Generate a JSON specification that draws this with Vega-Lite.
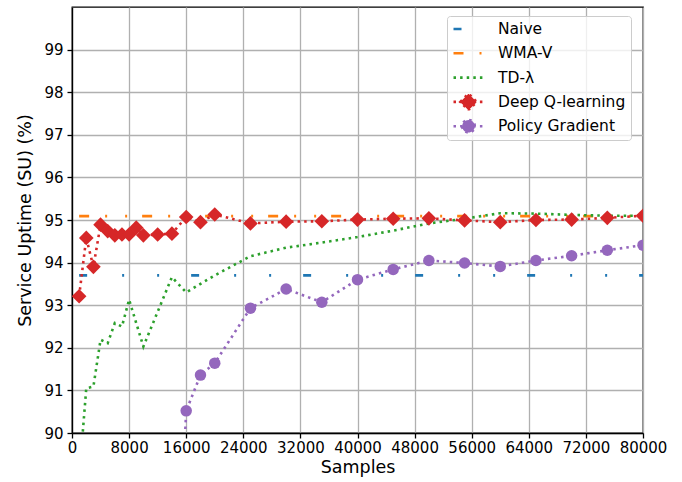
{
  "$schema": "https://vega.github.io/schema/vega-lite/v6.json",
  "width": 571,
  "height": 426,
  "autosize": {"type": "none"},
  "padding": {"left": 72, "top": 7, "right": 39, "bottom": 49},
  "background": "white",
  "datasets": {
    "main": [
      {"series": "Naive", "x": 1000, "y": 93.7}, {"series": "Naive", "x": 10000, "y": 93.7}, {"series": "Naive", "x": 20000, "y": 93.7}, {"series": "Naive", "x": 30000, "y": 93.7}, {"series": "Naive", "x": 40000, "y": 93.7}, {"series": "Naive", "x": 50000, "y": 93.7}, {"series": "Naive", "x": 60000, "y": 93.7}, {"series": "Naive", "x": 70000, "y": 93.7}, {"series": "Naive", "x": 80000, "y": 93.7},
      {"series": "WMA-V", "x": 1000, "y": 95.09}, {"series": "WMA-V", "x": 10000, "y": 95.09}, {"series": "WMA-V", "x": 20000, "y": 95.09}, {"series": "WMA-V", "x": 30000, "y": 95.09}, {"series": "WMA-V", "x": 40000, "y": 95.09}, {"series": "WMA-V", "x": 50000, "y": 95.09}, {"series": "WMA-V", "x": 60000, "y": 95.09}, {"series": "WMA-V", "x": 70000, "y": 95.09}, {"series": "WMA-V", "x": 80000, "y": 95.09},
      {"series": "TD-λ", "x": 1000, "y": 88.95}, {"series": "TD-λ", "x": 2000, "y": 91.05}, {"series": "TD-λ", "x": 3000, "y": 91.09}, {"series": "TD-λ", "x": 4000, "y": 92.19}, {"series": "TD-λ", "x": 5000, "y": 92.11}, {"series": "TD-λ", "x": 6000, "y": 92.58}, {"series": "TD-λ", "x": 7000, "y": 92.5}, {"series": "TD-λ", "x": 8000, "y": 93.13}, {"series": "TD-λ", "x": 10000, "y": 92.03}, {"series": "TD-λ", "x": 14000, "y": 93.66}, {"series": "TD-λ", "x": 16000, "y": 93.3}, {"series": "TD-λ", "x": 18000, "y": 93.5}, {"series": "TD-λ", "x": 20000, "y": 93.7}, {"series": "TD-λ", "x": 25000, "y": 94.15}, {"series": "TD-λ", "x": 30000, "y": 94.35}, {"series": "TD-λ", "x": 35000, "y": 94.47}, {"series": "TD-λ", "x": 40000, "y": 94.6}, {"series": "TD-λ", "x": 45000, "y": 94.75}, {"series": "TD-λ", "x": 50000, "y": 94.92}, {"series": "TD-λ", "x": 55000, "y": 95.03}, {"series": "TD-λ", "x": 60000, "y": 95.16}, {"series": "TD-λ", "x": 65000, "y": 95.15}, {"series": "TD-λ", "x": 70000, "y": 95.12}, {"series": "TD-λ", "x": 75000, "y": 95.1}, {"series": "TD-λ", "x": 80000, "y": 95.1},
      {"series": "Deep Q-learning", "x": 1000, "y": 93.21}, {"series": "Deep Q-learning", "x": 2000, "y": 94.58}, {"series": "Deep Q-learning", "x": 3000, "y": 93.9}, {"series": "Deep Q-learning", "x": 4000, "y": 94.89}, {"series": "Deep Q-learning", "x": 5000, "y": 94.74}, {"series": "Deep Q-learning", "x": 6000, "y": 94.64}, {"series": "Deep Q-learning", "x": 7000, "y": 94.66}, {"series": "Deep Q-learning", "x": 8000, "y": 94.66}, {"series": "Deep Q-learning", "x": 9000, "y": 94.82}, {"series": "Deep Q-learning", "x": 10000, "y": 94.64}, {"series": "Deep Q-learning", "x": 12000, "y": 94.66}, {"series": "Deep Q-learning", "x": 14000, "y": 94.68}, {"series": "Deep Q-learning", "x": 16000, "y": 95.07}, {"series": "Deep Q-learning", "x": 18000, "y": 94.95}, {"series": "Deep Q-learning", "x": 20000, "y": 95.13}, {"series": "Deep Q-learning", "x": 25000, "y": 94.92}, {"series": "Deep Q-learning", "x": 30000, "y": 94.96}, {"series": "Deep Q-learning", "x": 35000, "y": 94.97}, {"series": "Deep Q-learning", "x": 40000, "y": 95.01}, {"series": "Deep Q-learning", "x": 45000, "y": 95.03}, {"series": "Deep Q-learning", "x": 50000, "y": 95.04}, {"series": "Deep Q-learning", "x": 55000, "y": 94.99}, {"series": "Deep Q-learning", "x": 60000, "y": 94.95}, {"series": "Deep Q-learning", "x": 65000, "y": 95.0}, {"series": "Deep Q-learning", "x": 70000, "y": 95.01}, {"series": "Deep Q-learning", "x": 75000, "y": 95.05}, {"series": "Deep Q-learning", "x": 80000, "y": 95.1},
      {"series": "Policy Gradient", "x": 15000, "y": 87.0}, {"series": "Policy Gradient", "x": 16000, "y": 90.52}, {"series": "Policy Gradient", "x": 18000, "y": 91.36}, {"series": "Policy Gradient", "x": 20000, "y": 91.64}, {"series": "Policy Gradient", "x": 25000, "y": 92.93}, {"series": "Policy Gradient", "x": 30000, "y": 93.38}, {"series": "Policy Gradient", "x": 35000, "y": 93.07}, {"series": "Policy Gradient", "x": 40000, "y": 93.6}, {"series": "Policy Gradient", "x": 45000, "y": 93.84}, {"series": "Policy Gradient", "x": 50000, "y": 94.05}, {"series": "Policy Gradient", "x": 55000, "y": 93.99}, {"series": "Policy Gradient", "x": 60000, "y": 93.91}, {"series": "Policy Gradient", "x": 65000, "y": 94.05}, {"series": "Policy Gradient", "x": 70000, "y": 94.16}, {"series": "Policy Gradient", "x": 75000, "y": 94.29}, {"series": "Policy Gradient", "x": 80000, "y": 94.41}
    ]
  },
  "data": {"name": "main"},
  "encoding": {
    "x": {
      "field": "x", "type": "quantitative",
      "scale": {"domain": [0, 80000], "nice": false, "zero": false},
      "axis": {"title": "Samples", "values": [0, 8000, 16000, 24000, 32000, 40000, 48000, 56000, 64000, 72000, 80000], "format": "d", "labelPadding": 2, "titlePadding": 3}
    },
    "y": {
      "field": "y", "type": "quantitative",
      "scale": {"domain": [90, 100], "nice": false, "zero": false},
      "axis": {"title": "Service Uptime (SU) (%)", "values": [90, 91, 92, 93, 94, 95, 96, 97, 98, 99], "format": "d", "labelPadding": 4, "titlePadding": 9}
    }
  },
  "layer": [
    {
      "mark": {"type": "line", "strokeWidth": 2.6, "clip": true, "strokeCap": "butt"},
      "encoding": {
        "color": {
          "field": "series", "type": "nominal",
          "scale": {"domain": ["Naive", "WMA-V", "TD-λ", "Deep Q-learning", "Policy Gradient"], "range": ["#1f77b4", "#ff7f0e", "#2ca02c", "#d62728", "#9467bd"]},
          "legend": {
            "title": null,
            "orient": "none",
            "legendX": 375,
            "legendY": 9,
            "padding": 5,
            "fillColor": "rgba(255,255,255,0.8)",
            "strokeColor": "#cccccc",
            "cornerRadius": 3,
            "labelFont": "DejaVu Sans",
            "labelFontSize": 15.5,
            "labelColor": "black",
            "labelOffset": 13,
            "labelLimit": 300,
            "symbolSize": 900,
            "symbolStrokeWidth": 2.6,
            "clipHeight": 16,
            "rowPadding": 7.3,
            "encode": {
              "symbols": {
                "update": {
                  "shape": {"signal": "datum.value === 'Deep Q-learning' ? 'M-1,0L1,0M-0.55,0L0,-0.55L0.55,0L0,0.55Z' : datum.value === 'Policy Gradient' ? 'M-1,0L1,0M-0.42,0A0.42,0.42,0,1,0,0.42,0A0.42,0.42,0,1,0,-0.42,0Z' : 'M-1,0L1,0'"},
                  "strokeDash": {"signal": "datum.value === 'Naive' ? [8,35,2,33,2,32] : datum.value === 'WMA-V' ? [10,16,2,18,2,15] : [2.5,4.1]"},
                  "fill": {"signal": "datum.value === 'Deep Q-learning' ? '#d62728' : datum.value === 'Policy Gradient' ? '#9467bd' : 'transparent'"},
                  "fillOpacity": {"value": 1}
                }
              }
            }
          }
        },
        "strokeDash": {
          "field": "series", "type": "nominal",
          "scale": {"domain": ["Naive", "WMA-V", "TD-λ", "Deep Q-learning", "Policy Gradient"], "range": [[8, 35, 2, 33, 2, 32], [10, 16, 2, 18, 2, 15], [2.5, 4.1], [2.5, 4.1], [2.5, 4.1]]},
          "legend": null
        }
      }
    },
    {
      "transform": [{"filter": "datum.series === 'Deep Q-learning'"}],
      "mark": {"type": "point", "shape": "diamond", "filled": true, "size": 215, "opacity": 1, "color": "#d62728", "clip": true}
    },
    {
      "transform": [{"filter": "datum.series === 'Policy Gradient'"}],
      "mark": {"type": "point", "shape": "circle", "filled": true, "size": 132, "opacity": 1, "color": "#9467bd", "clip": true}
    }
  ],
  "config": {
    "font": "DejaVu Sans",
    "view": {"stroke": "black", "strokeWidth": 1.3},
    "axis": {
      "labelFont": "DejaVu Sans",
      "labelFontSize": 15,
      "labelColor": "black",
      "titleFont": "DejaVu Sans",
      "titleFontSize": 17.5,
      "titleFontWeight": "normal",
      "titleColor": "black",
      "domainColor": "black",
      "domainWidth": 1.3,
      "tickColor": "black",
      "tickWidth": 1.3,
      "tickSize": 5,
      "gridColor": "#b0b0b0",
      "gridWidth": 1.3,
      "gridOpacity": 1,
      "labelFlush": false,
      "labelOverlap": false
    }
  }
}
